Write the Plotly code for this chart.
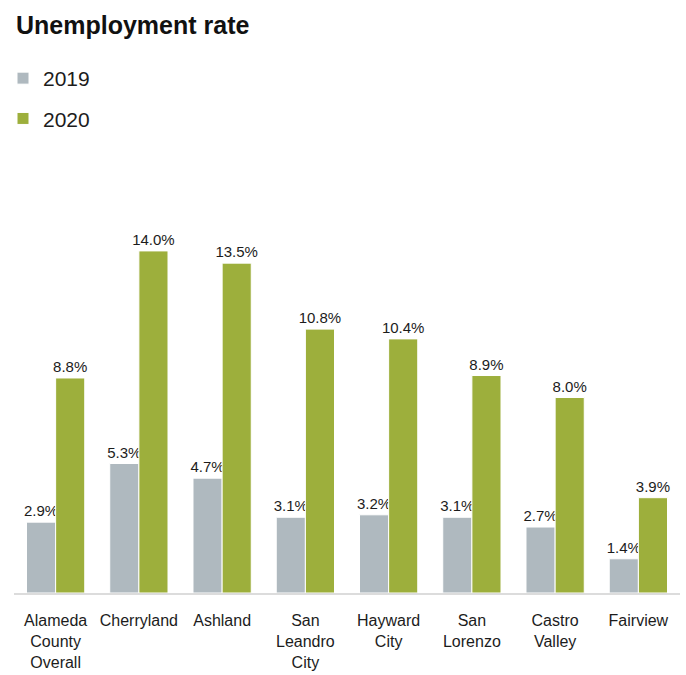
import plotly.graph_objects as go

categories = ["Alameda<br>County<br>Overall", "Cherryland", "Ashland", "San<br>Leandro<br>City",
              "Hayward<br>City", "San<br>Lorenzo", "Castro<br>Valley", "Fairview"]
values_2019 = [2.9, 5.3, 4.7, 3.1, 3.2, 3.1, 2.7, 1.4]
values_2020 = [8.8, 14.0, 13.5, 10.8, 10.4, 8.9, 8.0, 3.9]

GREY = "#AFB9BF"
GREEN = "#9DAF3C"
TEXT = "#1c1c1c"
FONT = "Liberation Sans, Arial, sans-serif"
NARROW = "Liberation Sans Narrow, Liberation Sans, Arial, sans-serif"

fig = go.Figure()
fig.add_trace(go.Bar(
    name="2019", x=categories, y=values_2019, marker_color=GREY,
    marker_line_color="white", marker_line_width=1,
    text=[f"{v:.1f}%" for v in values_2019], textposition="outside",
    constraintext="none",
    textfont=dict(size=15, color=TEXT, family=FONT), cliponaxis=False,
    legendgroup="a",
))
fig.add_trace(go.Bar(
    name="2020", x=categories, y=values_2020, marker_color=GREEN,
    marker_line_color="white", marker_line_width=1,
    text=[f"{v:.1f}%" for v in values_2020], textposition="outside",
    constraintext="none",
    textfont=dict(size=15, color=TEXT, family=FONT), cliponaxis=False,
    legendgroup="b",
))

fig.update_layout(
    width=686, height=675,
    margin=dict(l=14, r=6, t=150, b=82, autoexpand=False),
    paper_bgcolor="white", plot_bgcolor="white",
    barmode="group", bargap=0.30, bargroupgap=0,
    title=dict(text="<b>Unemployment rate</b>", x=16/686, xref="container", xanchor="left",
               y=0.963, yanchor="middle",
               font=dict(size=25, color="#111", family=FONT)),
    legend=dict(x=3/686, xref="container", xanchor="left",
                y=1-58/675, yref="container", yanchor="top",
                font=dict(size=21, color=TEXT, family=FONT),
                tracegroupgap=10, bgcolor="rgba(0,0,0,0)"),
    xaxis=dict(showline=True, linecolor="#dcdcdc", linewidth=2, ticks="",
               ticklabelstandoff=12, tickangle=0, automargin=False,
               tickfont=dict(size=16, color=TEXT, family=NARROW), showgrid=False),
    yaxis=dict(range=[0, 18.13], visible=False, showgrid=False, automargin=False),
)

fig.write_html("out.html")
